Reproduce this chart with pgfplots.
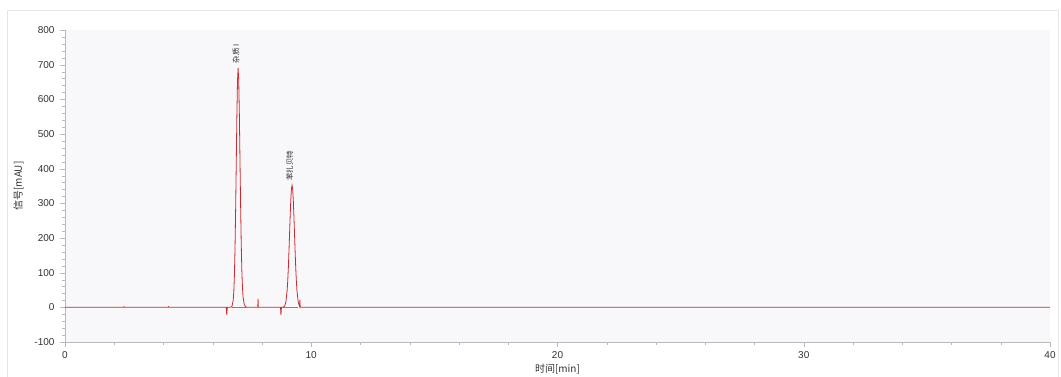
\documentclass[border=0pt]{standalone}
\usepackage{fontspec}
\setmainfont{Liberation Sans}
\newfontfamily\cjk{Noto Sans CJK SC}
\usepackage{pgfplots}
\pgfplotsset{compat=1.18}
\definecolor{sig}{RGB}{205,40,45}
\definecolor{axc}{RGB}{185,185,190}
\definecolor{bg}{RGB}{248,248,251}
\definecolor{txt}{RGB}{50,50,50}
\begin{document}
\begin{tikzpicture}
\path[use as bounding box] (-65pt,-34pt) rectangle (996pt,342pt);
\draw[color={rgb,255:red,230;green,230;blue,232}, line width=0.8pt] (-58pt,-40pt) rectangle (993pt,332pt);
\begin{axis}[
  scale only axis, width=985pt, height=312pt,
  xmin=0, xmax=40, ymin=-100, ymax=800,
  xtick={0,10,20,30,40}, ytick={-100,0,100,200,300,400,500,600,700,800},
  minor x tick num=4, minor y tick num=4,
  axis x line=bottom, axis y line=left,
  axis line style={color=axc, -},
  tick style={color=axc},
  tick align=outside,
  major tick length=5pt, minor tick length=3pt,
  axis background/.style={fill=bg},
  /pgf/number format/assume math mode=true,
  tick label style={font=\fontsize{10}{12}\selectfont, text=txt},
  xticklabel style={yshift=-1pt},
  yticklabel style={xshift=-2pt},
  xlabel={\cjk 时间[min]}, ylabel={\cjk 信号[mAU]},
  label style={font=\fontsize{10}{12}\selectfont, text=txt},
  xlabel style={yshift=1pt},
  ylabel style={yshift=4pt},
  clip=false,
]
\addplot[sig, line width=0.8pt] coordinates {
(0,0) (2.38,0) (2.4,2) (2.42,0) (4.18,0) (4.2,2) (4.22,0)
(6.55,0) (6.57,-22) (6.59,0)
(6.73,0) (6.78,2.7) (6.83,20) (6.855,45) (6.88,93) (6.905,172) (6.93,284) (6.955,418) (6.98,553) (7.005,653) (7.03,690)
(7.055,655) (7.08,560) (7.105,430) (7.13,300) (7.155,190) (7.18,110) (7.205,60) (7.23,30) (7.28,8) (7.33,2) (7.4,0)
(7.83,0) (7.84,25) (7.85,0)
(8.75,0) (8.77,-22) (8.79,0)
(8.87,0.8) (8.92,3.9) (8.97,15.5) (9.02,48) (9.045,76) (9.07,114) (9.095,161) (9.12,213) (9.145,266) (9.17,311) (9.195,341) (9.22,352)
(9.245,341) (9.27,311) (9.295,266) (9.32,213) (9.345,161) (9.37,114) (9.395,76) (9.42,48) (9.47,15.5) (9.52,3.9) (9.53,2) (9.54,22) (9.55,1) (9.57,0.8) (9.62,0)
(40,0)
};
\addplot[gray, line width=1.2pt] coordinates {(6.78,0) (7.39,0)};
\addplot[gray, line width=1.2pt] coordinates {(8.81,0) (9.46,0)};
\node[rotate=90, anchor=west, font=\fontsize{7.5}{8}\selectfont, text=txt, inner sep=1pt] at (axis cs:6.95,700) {\cjk 杂质 I};
\node[rotate=90, anchor=west, font=\fontsize{7.5}{8}\selectfont, text=txt, inner sep=1pt] at (axis cs:9.13,362) {\cjk 苯扎贝特};
\end{axis}
\end{tikzpicture}
\end{document}
